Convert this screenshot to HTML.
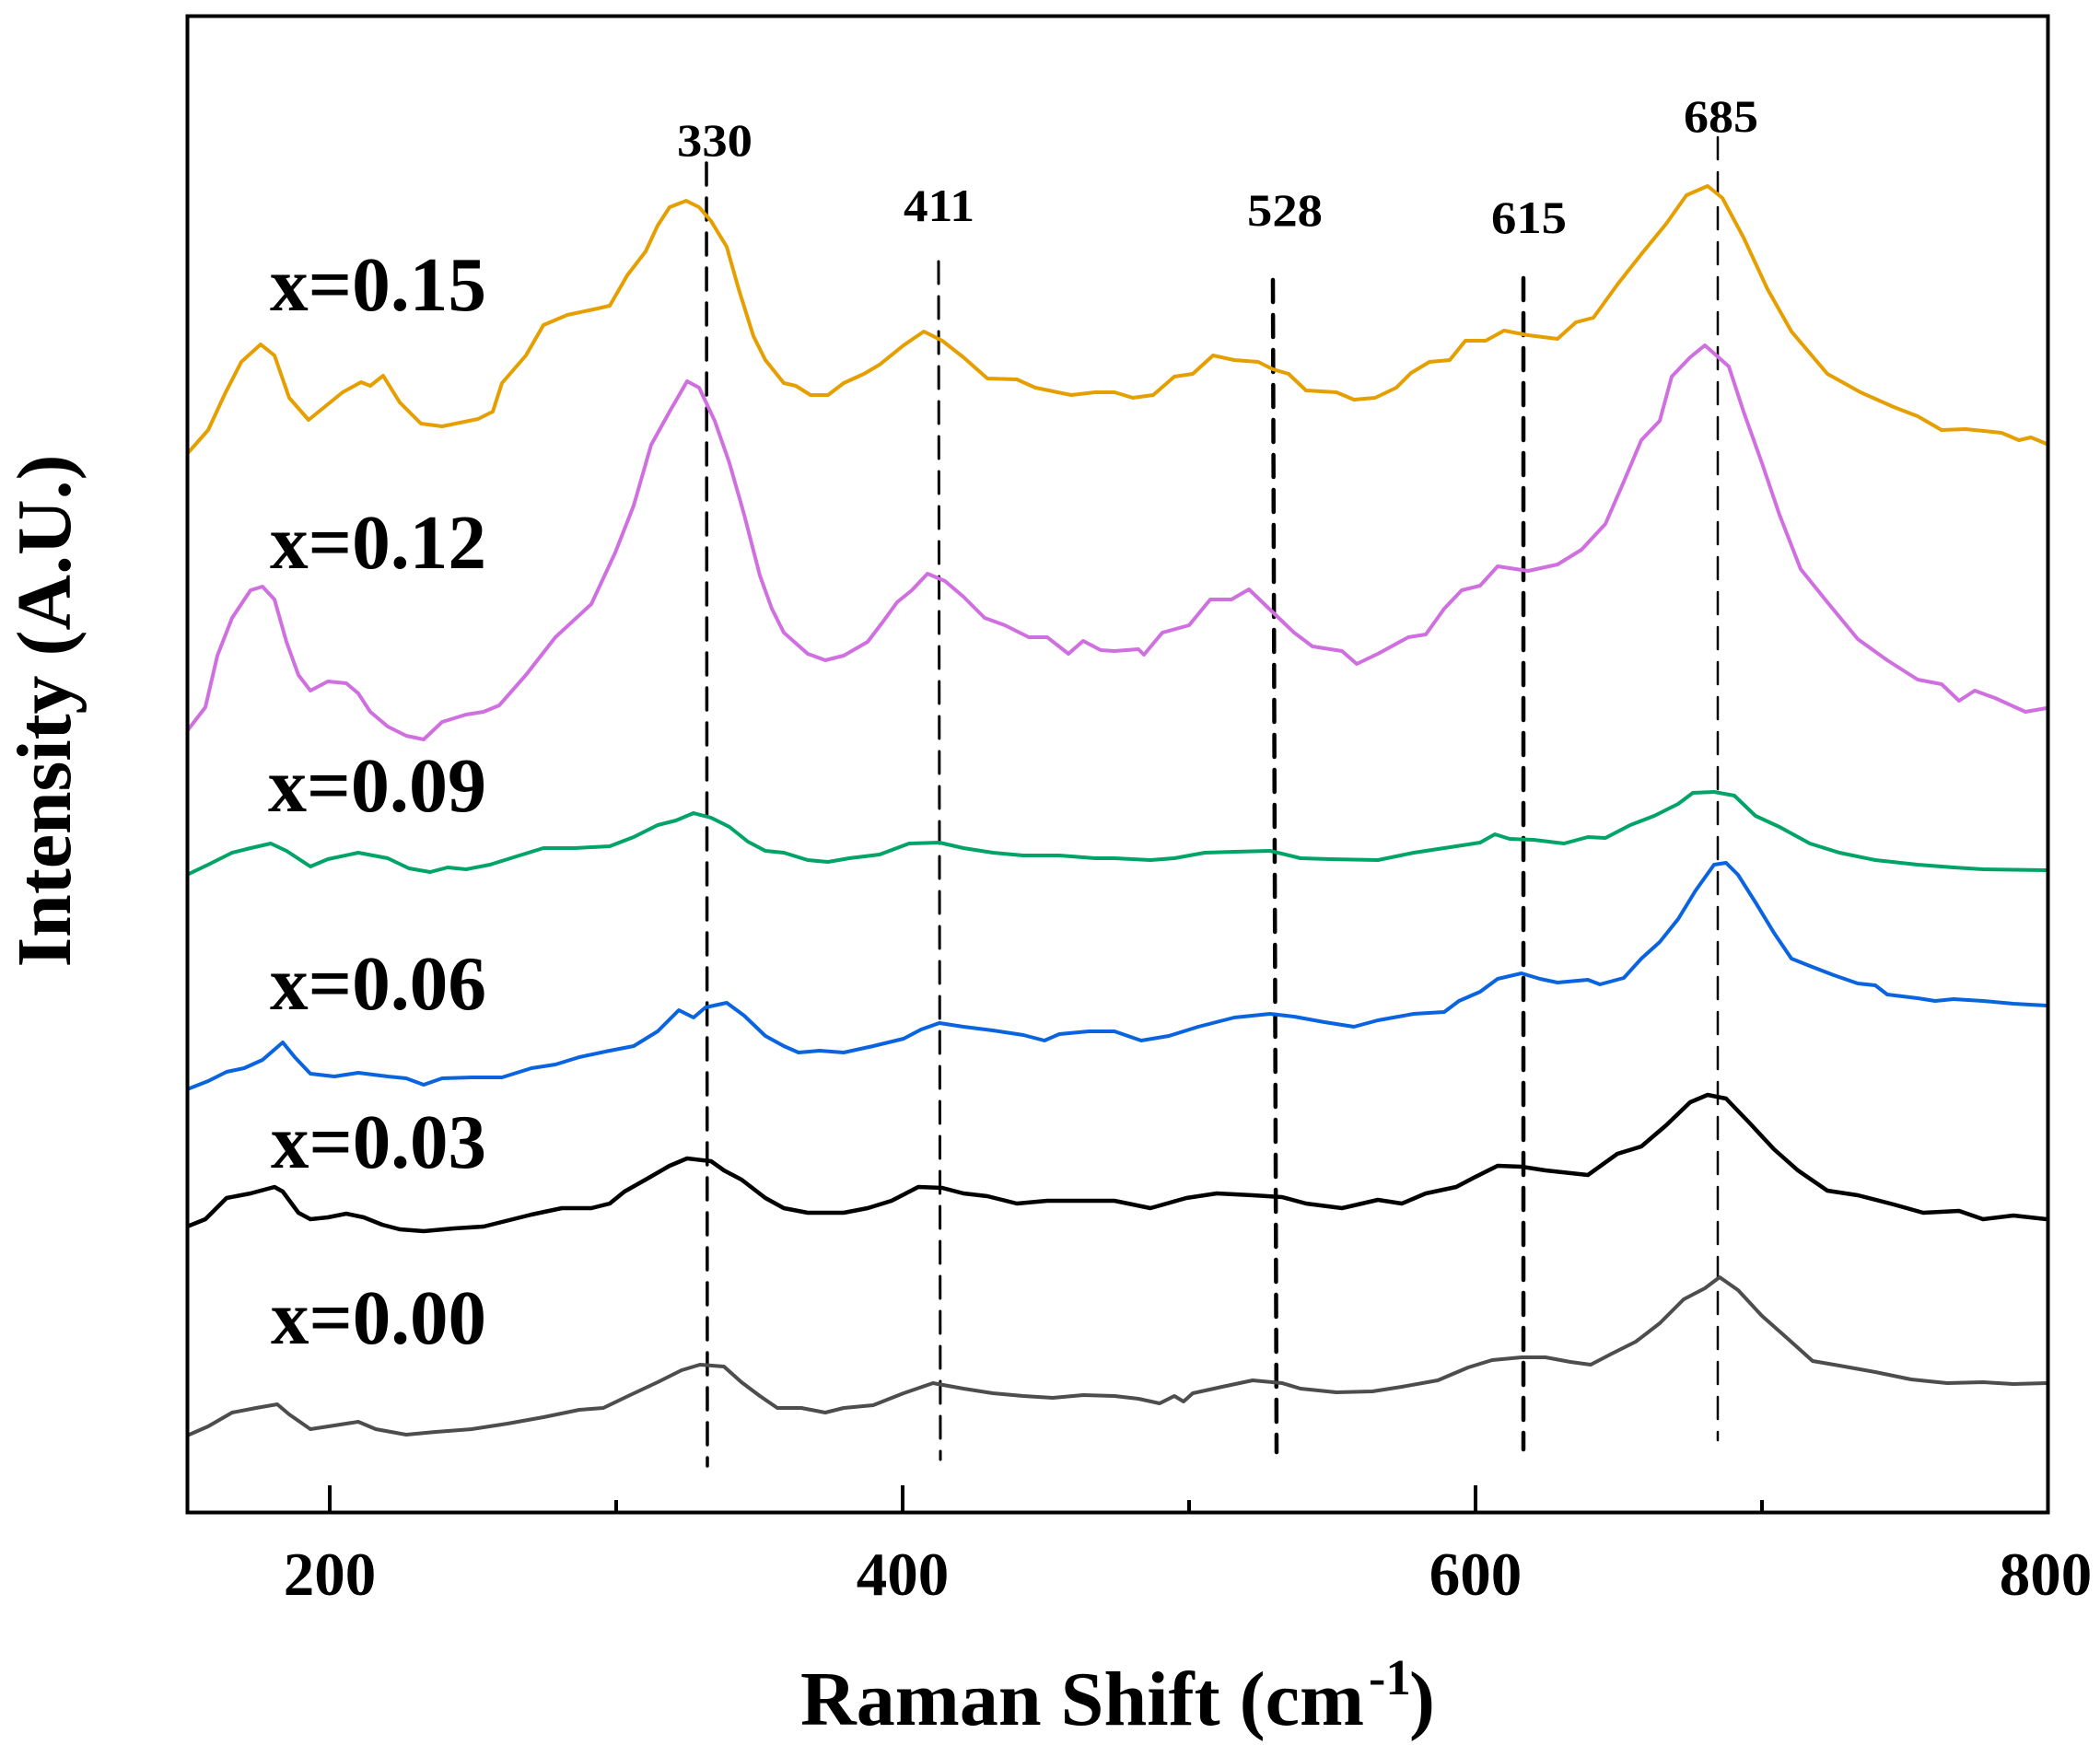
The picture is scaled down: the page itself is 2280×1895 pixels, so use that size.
<!DOCTYPE html>
<html><head><meta charset="utf-8"><style>
html,body{margin:0;padding:0;background:#fff;}
svg{display:block;}
text{font-family:"Liberation Serif","Times New Roman",serif;font-weight:bold;fill:#000;}
</style></head><body>
<svg width="2280" height="1895" viewBox="0 0 2280 1895" xmlns="http://www.w3.org/2000/svg">
<rect width="2280" height="1895" fill="#fff"/>
<defs><clipPath id="pc"><rect x="203" y="17" width="2021" height="1626"/></clipPath></defs>
<g clip-path="url(#pc)" fill="none" stroke-linejoin="round" stroke-linecap="round">
<g stroke="#000" stroke-dasharray="24 14">
<line x1="767" y1="177" x2="768" y2="1592" stroke-width="3.5"/>
<line x1="1019" y1="284" x2="1021" y2="1585" stroke-width="3"/>
<line x1="1382" y1="304" x2="1386" y2="1577" stroke-width="4.5"/>
<line x1="1654" y1="302" x2="1654" y2="1574" stroke-width="4.5"/>
<line x1="1865" y1="149" x2="1865" y2="1564" stroke-width="2.5"/>
</g>
<polyline stroke="#E69F00" stroke-width="4" points="203,493 226,467 245,426 262,393 283,374 298,386 314,432 335,456 356,439 372,426 392,415 402,419 416,408 434,437 457,460 480,463 519,455 535,447 545,416 571,386 590,353 616,342 649,335 662,332 681,299 701,273 714,245 727,225 745,218 759,225 772,240 789,268 802,314 818,365 831,391 851,416 864,419 880,429 899,429 916,416 938,406 955,396 981,375 1003,360 1023,370 1046,388 1072,411 1104,412 1124,421 1163,429 1189,426 1210,426 1230,432 1252,429 1275,409 1295,406 1317,386 1340,391 1366,393 1382,401 1399,406 1418,424 1451,426 1470,434 1493,432 1516,421 1532,405 1552,393 1574,391 1591,370 1613,370 1633,359 1659,364 1691,368 1711,350 1730,345 1756,309 1782,276 1809,243 1831,212 1854,202 1870,215 1893,258 1919,314 1945,360 1984,406 2020,426 2056,442 2082,452 2108,467 2134,466 2173,470 2192,478 2205,475 2222,482"/>
<polyline stroke="#D070E0" stroke-width="4" points="203,794 223,768 236,712 252,671 272,641 285,637 298,651 311,697 324,733 337,750 356,740 376,742 389,753 402,773 421,789 441,799 460,803 480,784 506,776 525,773 542,766 571,733 603,692 642,656 668,600 688,549 707,483 727,447 746,414 759,421 776,457 792,503 808,559 825,625 838,661 851,687 877,710 896,717 916,712 942,697 958,676 974,654 990,641 1007,623 1026,631 1046,648 1069,671 1091,679 1117,692 1137,692 1160,710 1176,696 1195,706 1210,707 1236,705 1242,711 1262,687 1291,679 1314,651 1337,651 1356,640 1382,665 1405,687 1425,702 1457,707 1473,721 1496,710 1529,692 1548,689 1568,661 1587,641 1607,636 1626,615 1659,620 1691,613 1717,597 1743,569 1763,523 1782,478 1802,457 1815,409 1835,388 1851,375 1877,398 1893,447 1913,503 1932,559 1955,618 1984,654 2017,694 2049,717 2082,738 2108,743 2127,761 2144,750 2166,758 2199,773 2222,769"/>
<polyline stroke="#00A368" stroke-width="4" points="203,950 226,939 252,926 272,921 294,916 311,924 337,941 356,933 389,926 421,932 444,943 467,947 486,942 506,944 532,939 564,929 590,921 623,921 662,919 688,909 714,896 734,891 753,883 772,888 792,898 812,914 831,924 851,926 877,934 899,936 922,932 955,928 987,916 1020,915 1046,921 1078,926 1111,929 1150,929 1189,932 1210,932 1249,934 1275,932 1308,926 1340,925 1379,924 1412,932 1444,933 1496,934 1535,926 1581,919 1607,915 1623,906 1639,911 1665,912 1698,916 1724,909 1743,910 1770,896 1796,886 1822,873 1838,861 1861,860 1883,864 1906,886 1932,898 1965,916 1997,926 2036,934 2082,939 2121,942 2153,944 2222,945"/>
<polyline stroke="#0A64E0" stroke-width="4" points="203,1183 226,1174 246,1164 265,1160 285,1151 307,1132 320,1148 337,1166 363,1169 389,1165 421,1169 441,1171 460,1178 480,1171 512,1170 545,1170 577,1160 603,1156 629,1148 662,1141 688,1136 714,1120 737,1097 753,1105 766,1094 789,1089 808,1103 831,1125 851,1136 867,1143 890,1141 916,1143 948,1136 981,1128 1000,1118 1020,1111 1046,1115 1078,1119 1111,1124 1134,1130 1150,1123 1182,1120 1210,1120 1239,1130 1269,1125 1301,1115 1340,1105 1379,1101 1405,1104 1438,1110 1470,1115 1496,1108 1535,1101 1568,1099 1584,1087 1607,1077 1626,1063 1652,1057 1672,1063 1691,1067 1724,1064 1737,1069 1763,1062 1782,1041 1802,1023 1822,998 1841,967 1861,939 1874,937 1887,950 1906,980 1926,1013 1945,1041 1965,1049 1991,1059 2017,1068 2036,1070 2049,1080 2082,1084 2101,1087 2121,1085 2153,1087 2186,1090 2222,1092"/>
<polyline stroke="#000" stroke-width="4.5" points="203,1332 223,1324 246,1301 272,1296 298,1289 307,1294 324,1317 337,1324 356,1322 376,1318 395,1322 415,1330 434,1335 460,1337 493,1334 525,1332 545,1327 577,1319 610,1312 642,1312 662,1307 678,1294 701,1281 727,1266 746,1258 772,1261 786,1271 805,1281 831,1301 851,1312 877,1317 916,1317 942,1312 968,1304 997,1289 1023,1290 1046,1296 1072,1299 1104,1307 1137,1304 1163,1304 1210,1304 1249,1312 1288,1301 1321,1296 1360,1298 1392,1300 1418,1307 1457,1312 1496,1303 1522,1307 1548,1296 1581,1289 1600,1279 1626,1266 1652,1267 1678,1271 1724,1276 1756,1253 1782,1245 1809,1222 1835,1197 1854,1189 1874,1193 1900,1220 1926,1248 1952,1271 1984,1293 2017,1298 2056,1308 2088,1317 2127,1315 2153,1324 2186,1320 2222,1324"/>
<polyline stroke="#4D4D4D" stroke-width="4" points="203,1559 226,1549 252,1534 278,1529 301,1525 314,1536 337,1552 363,1548 389,1544 408,1552 441,1558 473,1555 512,1552 551,1546 590,1539 629,1531 655,1529 682,1516 714,1501 740,1488 760,1482 786,1484 805,1501 825,1516 844,1529 870,1529 896,1534 916,1529 948,1526 981,1513 1013,1502 1046,1508 1078,1513 1111,1516 1143,1518 1176,1515 1210,1516 1236,1519 1259,1524 1275,1516 1285,1522 1295,1513 1327,1506 1360,1499 1392,1502 1412,1508 1451,1512 1490,1511 1522,1506 1561,1499 1594,1485 1620,1477 1652,1474 1678,1474 1705,1479 1727,1482 1750,1470 1776,1457 1802,1437 1828,1411 1851,1399 1867,1387 1887,1401 1913,1429 1939,1452 1968,1478 1997,1483 2036,1490 2075,1498 2114,1502 2153,1501 2186,1503 2222,1502"/>
</g>
<!-- axes box -->
<rect x="203.5" y="17.5" width="2020" height="1625" fill="none" stroke="#000" stroke-width="4"/>
<g stroke="#000" stroke-width="4">
<line x1="358" y1="1642" x2="358" y2="1613"/>
<line x1="980" y1="1642" x2="980" y2="1613"/>
<line x1="1602" y1="1642" x2="1602" y2="1613"/>
<line x1="669" y1="1642" x2="669" y2="1629"/>
<line x1="1291" y1="1642" x2="1291" y2="1629"/>
<line x1="1913" y1="1642" x2="1913" y2="1629"/>
</g>
<!-- tick labels -->
<g font-size="67" text-anchor="middle">
<text x="358" y="1732">200</text>
<text x="980" y="1732">400</text>
<text x="1602" y="1732">600</text>
<text x="2221" y="1732">800</text>
</g>
<!-- axis titles -->
<text x="869" y="1873" font-size="84" textLength="612" lengthAdjust="spacingAndGlyphs">Raman Shift (cm</text>
<text x="1486" y="1840" font-size="55">-1</text>
<text x="1530" y="1873" font-size="84">)</text>
<text transform="translate(76,772) rotate(-90)" font-size="84" text-anchor="middle" textLength="557" lengthAdjust="spacingAndGlyphs">Intensity (A.U.)</text>
<!-- series labels -->
<g font-size="84">
<text x="293" y="337" textLength="235" lengthAdjust="spacingAndGlyphs">x=0.15</text>
<text x="293" y="617" textLength="235" lengthAdjust="spacingAndGlyphs">x=0.12</text>
<text x="291" y="881" textLength="237" lengthAdjust="spacingAndGlyphs">x=0.09</text>
<text x="293" y="1096" textLength="235" lengthAdjust="spacingAndGlyphs">x=0.06</text>
<text x="294" y="1268" textLength="234" lengthAdjust="spacingAndGlyphs">x=0.03</text>
<text x="294" y="1459" textLength="234" lengthAdjust="spacingAndGlyphs">x=0.00</text>
</g>
<!-- peak labels -->
<g font-size="50">
<text x="735" y="169" textLength="82" lengthAdjust="spacingAndGlyphs">330</text>
<text x="981" y="240" textLength="77" lengthAdjust="spacingAndGlyphs">411</text>
<text x="1354" y="245" textLength="82" lengthAdjust="spacingAndGlyphs">528</text>
<text x="1619" y="253" textLength="82" lengthAdjust="spacingAndGlyphs">615</text>
<text x="1828" y="143" textLength="81" lengthAdjust="spacingAndGlyphs">685</text>
</g>
</svg>
</body></html>
